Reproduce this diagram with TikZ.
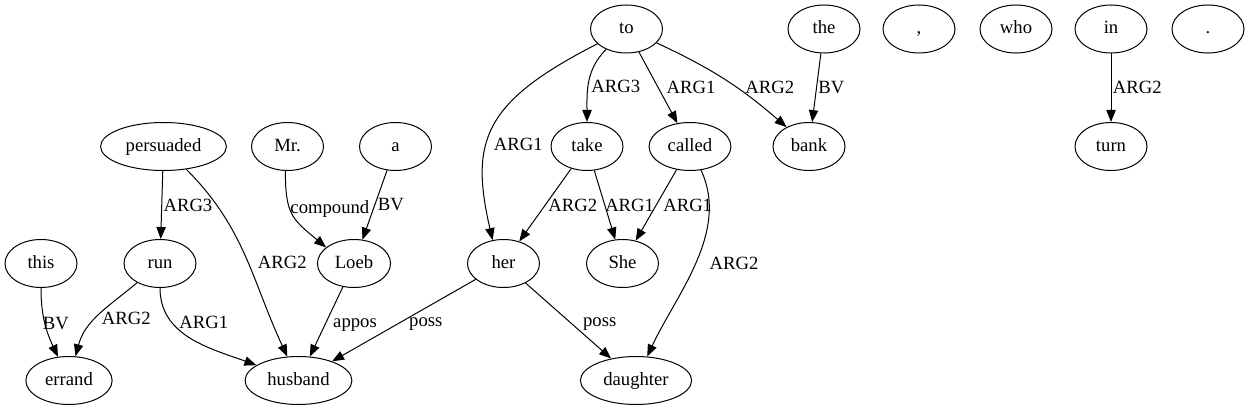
\documentclass[tikz,border=0pt]{standalone}
\usepackage{fontspec}
\setmainfont{Liberation Serif}
\usetikzlibrary{shapes.geometric, arrows.meta}
\tikzset{
    word/.style={ellipse, draw, line width=0.75pt, minimum width=54pt, minimum height=36pt, inner xsep=5pt, inner ysep=2pt, text height=10pt, text depth=3pt, font=\fontsize{14}{16}\selectfont},
    rel/.style={anchor=west, inner sep=0pt, font=\fontsize{14}{16}\selectfont},
    arrow/.style={-{Triangle[length=9pt, width=7pt]}, line width=0.75pt}
}

\begin{document}
\begin{tikzpicture}[x=0.75pt, y=0.75pt]
    \useasboundingbox (0,0) rectangle (1249,411);

    % Top row
    \node[word] (to) at (626.5,382) {to};
    \node[word] (the) at (824,382) {the};
    \node[word] (comma) at (919,382) {,};
    \node[word] (who) at (1016,382) {who};
    \node[word] (in) at (1111,382) {in};
    \node[word] (dot) at (1208,382) {.};

    % Second row
    \node[word] (persuaded) at (163.5,264.5) {persuaded};
    \node[word] (mr) at (287.5,264.5) {Mr.};
    \node[word] (a) at (395.5,264.5) {a};
    \node[word] (take) at (587,264.5) {take};
    \node[word] (called) at (690,264.5) {called};
    \node[word] (bank) at (809,264.5) {bank};
    \node[word] (turn) at (1111,264.5) {turn};

    % Third row
    \node[word] (this) at (41,147.5) {this};
    \node[word] (run) at (160,147.5) {run};
    \node[word] (loeb) at (354,147.5) {Loeb};
    \node[word] (her) at (503.5,147.5) {her};
    \node[word] (she) at (622.5,147.5) {She};

    % Bottom row
    \node[word] (errand) at (69,30.5) {errand};
    \node[word] (husband) at (298.5,30.5) {husband};
    \node[word] (daughter) at (636,30.5) {daughter};

    % Edges from the top row
    \draw[arrow] (to) to[out=207, in=103, out looseness=1.47, in looseness=1.17] node[rel, pos=0.6, xshift=5pt] {ARG1} (her.115);
    \draw[arrow] (to) to[out=225, in=90] node[rel, pos=0.55, xshift=2pt] {ARG3} (take);
    \draw[arrow] (to) -- node[rel, xshift=6pt] {ARG1} (called);
    \draw[arrow] (to) to[bend left=8] node[rel, pos=0.6, xshift=6pt] {ARG2} (bank);
    \draw[arrow] (the) -- node[rel, xshift=1pt] {BV} (bank);
    \draw[arrow] (in) -- node[rel, xshift=1pt] {ARG2} (turn);

    % Edges from the second row
    \draw[arrow] (persuaded) -- node[rel, xshift=1pt] {ARG3} (run);
    \draw[arrow] (persuaded) to[out=-45, in=115] node[rel, pos=0.53, xshift=7pt] {ARG2} (husband);
    \draw[arrow] (mr.265) to[out=-90, in=140, looseness=1.3] node[rel, pos=0.4] {compound} (loeb.150);
    \draw[arrow] (a) -- node[rel, xshift=2pt] {BV} (loeb);
    \draw[arrow] (take) -- node[rel, xshift=2pt] {ARG2} (her);
    \draw[arrow] (take) -- node[rel] {ARG1} (she);
    \draw[arrow] (called) -- node[rel, xshift=5pt] {ARG1} (she);
    \draw[arrow] (called) to[out=-65, in=65, looseness=0.9] node[rel, xshift=10pt] {ARG2} (daughter);

    % Edges from the third row
    \draw[arrow] (this) to[out=-90, in=115] node[rel, xshift=-2pt] {BV} (errand);
    \draw[arrow] (run) to[out=220, in=75] node[rel, pos=0.55, xshift=4pt] {ARG2} (errand);
    \draw[arrow] (run) to[out=-90, in=160] node[rel, pos=0.3, xshift=5pt] {ARG1} (husband);
    \draw[arrow] (loeb) -- node[rel, pos=0.55, xshift=6pt] {appos} (husband);
    \draw[arrow] (her) -- node[rel, pos=0.55, xshift=9pt] {poss} (husband);
    \draw[arrow] (her) -- node[rel, pos=0.55, xshift=7.5pt] {poss} (daughter);
\end{tikzpicture}
\end{document}
